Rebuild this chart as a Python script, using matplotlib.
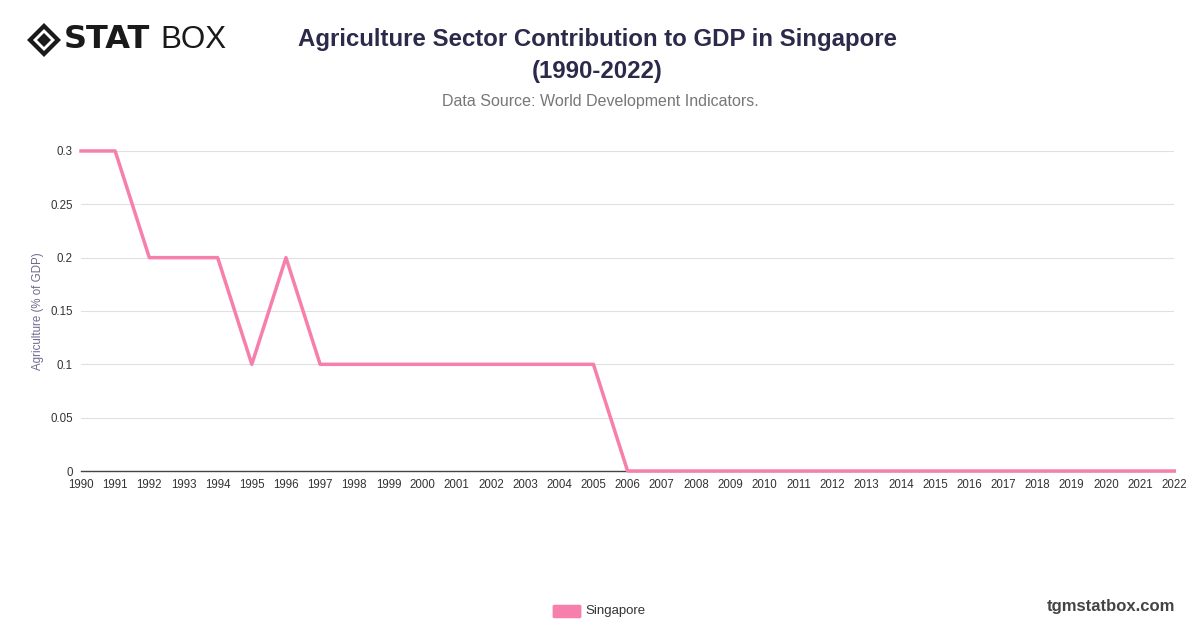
import matplotlib
matplotlib.use('Agg')
import matplotlib.pyplot as plt
from matplotlib.patches import Polygon, FancyBboxPatch

plt.rcParams['font.family'] = ['Liberation Sans', 'DejaVu Sans']

# datos
years = list(range(1990, 2023))
agri_gdp = [0.3, 0.3, 0.2, 0.2, 0.2, 0.1, 0.2,
            0.1, 0.1, 0.1, 0.1, 0.1, 0.1, 0.1, 0.1, 0.1,
            0, 0, 0, 0, 0, 0, 0, 0, 0, 0, 0, 0, 0, 0, 0, 0, 0]
yticks = [0, 0.05, 0.1, 0.15, 0.2, 0.25, 0.3]
ytick_labels = ['0', '0.05', '0.1', '0.15', '0.2', '0.25', '0.3']

PINK = '#F77FAB'

fig = plt.figure(figsize=(12, 6.28), dpi=100)
ax = fig.add_axes([0.0675, 0.25, 0.911, 0.5096])

ax.plot(years, agri_gdp, color=PINK, linewidth=2.5, clip_on=False, zorder=3)
ax.set_xlim(1990, 2022)
ax.set_ylim(0, 0.3)
ax.set_xticks(years)
ax.set_xticklabels([str(y) for y in years], fontsize=8.3, color='#333333')
ax.set_yticks(yticks)
ax.set_yticklabels(ytick_labels, fontsize=8.3, color='#333333')
ax.tick_params(axis='both', length=0, pad=6)
ax.grid(axis='y', color='#e0e0e0', linewidth=0.8)
ax.set_axisbelow(True)
for s in ['top', 'right', 'left']:
    ax.spines[s].set_visible(False)
ax.spines['bottom'].set_color('#444444')
ax.spines['bottom'].set_linewidth(1)
ax.set_ylabel('Agriculture (% of GDP)', fontsize=8.3, color='#6e6a8e', labelpad=4)

# titulos
fig.text(0.498, 0.937, 'Agriculture Sector Contribution to GDP in Singapore',
         ha='center', va='center', fontsize=17.3, fontweight='bold', color='#2b2a4a')
fig.text(0.498, 0.886, '(1990-2022)', ha='center', va='center',
         fontsize=17.3, fontweight='bold', color='#2b2a4a')
fig.text(0.5, 0.838, 'Data Source: World Development Indicators.', ha='center',
         va='center', fontsize=11.5, color='#777777')

# logo
cx, cy = 44 / 1200, 1 - 40 / 628
w, h = 17 / 1200, 17 / 628
outer = Polygon([(cx - w, cy), (cx, cy + h), (cx + w, cy), (cx, cy - h)],
                closed=True, transform=fig.transFigure, facecolor='#1a1a1a',
                edgecolor='none')
fig.add_artist(outer)
w2, h2 = 11 / 1200, 11 / 628
inner = Polygon([(cx - w2, cy), (cx, cy + h2), (cx + w2, cy), (cx, cy - h2)],
                closed=True, transform=fig.transFigure, facecolor='white',
                edgecolor='none')
fig.add_artist(inner)
w3, h3 = 7 / 1200, 7 / 628
core = Polygon([(cx - w3, cy), (cx, cy + h3), (cx + w3, cy), (cx, cy - h3)],
               closed=True, transform=fig.transFigure, facecolor='#1a1a1a',
               edgecolor='none')
fig.add_artist(core)
fig.text(64 / 1200, cy, 'STAT', ha='left', va='center', fontsize=23,
         fontweight='heavy', color='#1a1a1a', family='DejaVu Sans')
fig.text(160 / 1200, cy, 'BOX', ha='left', va='center', fontsize=22.5,
         color='#1a1a1a')

# leyenda
leg = FancyBboxPatch((555 / 1200, 1 - 617 / 628), 24 / 1200, 11 / 628,
                     boxstyle='round,pad=0.002', transform=fig.transFigure,
                     facecolor=PINK, edgecolor='none')
fig.add_artist(leg)
fig.text(585 / 1200, 1 - 611 / 628, 'Singapore', ha='left', va='center',
         fontsize=9.5, color='#333333')

fig.text(1175 / 1200, 1 - 607 / 628, 'tgmstatbox.com', ha='right', va='center',
         fontsize=12, fontweight='bold', color='#444444')

fig.savefig('out.png', dpi=100, facecolor='white')
